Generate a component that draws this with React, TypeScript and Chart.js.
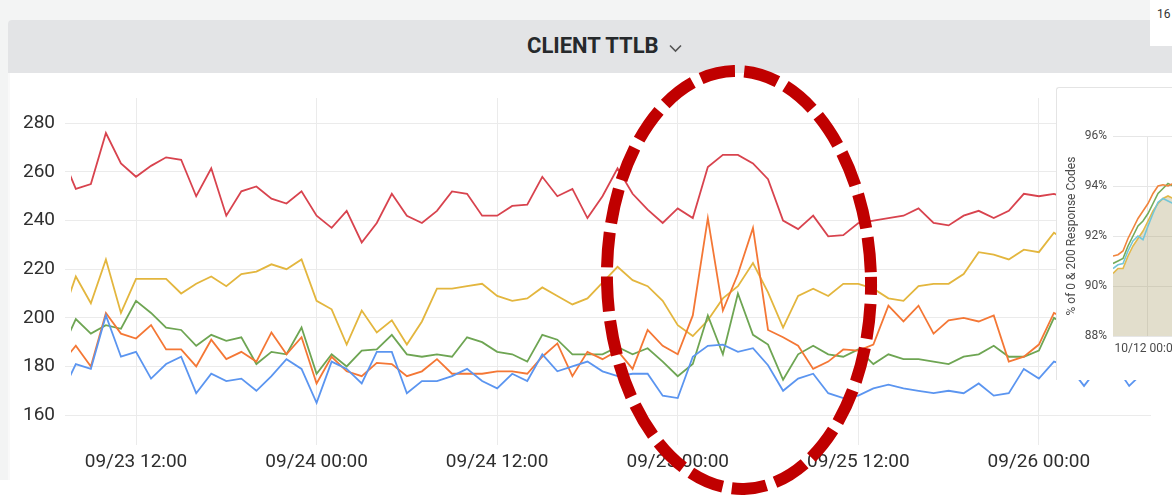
import React, { useEffect, useRef } from "react";
import { Chart, registerables } from "chart.js";

Chart.register(...registerables);

// ---------- Main chart data (hours since 09/23 00:00) ----------
const hours = [
  7, 8, 9, 10, 11, 12, 13, 14, 15, 16, 17, 18, 19, 20, 21, 22, 23, 24, 25, 26,
  27, 28, 29, 30, 31, 32, 33, 34, 35, 36, 37, 38, 39, 40, 41, 42, 43, 44, 45, 46,
  47, 48, 49, 50, 51, 52, 53, 54, 55, 56, 57, 58, 59, 60, 61, 62, 63, 64, 65, 66,
  67, 68, 69, 70, 71, 72, 73, 74, 75, 76, 77, 78, 79, 80,
];

const redSeries = [
  268, 253, 255, 276, 263.5, 258, 262.5, 266, 265, 250, 261.5, 242, 252, 254, 249, 247, 252, 242, 237, 244,
  231, 239, 251, 242, 239, 244, 252, 251, 242, 242, 246, 246.5, 258, 250, 253, 241, 250, 261.5, 251, 244.5,
  239, 245, 241, 262, 267, 267, 263.5, 257, 240, 236.5, 242, 233.5, 234, 239, 240, 241, 242, 245, 239, 238,
  242, 244, 241, 244, 251, 250, 251, 249, 252, 250, 248, 251, 250, 249,
];

const yellowSeries = [
  199, 217, 206, 224, 202, 216, 216, 216, 210, 214, 217, 213, 218, 219, 222, 220, 224, 207, 203.5, 189,
  203, 194, 199, 189, 198.5, 212, 212, 213, 214, 209, 207, 208, 212.5, 209, 205.5, 208, 214.5, 221, 215.5, 213,
  207, 197, 192.5, 199, 208, 213, 222.5, 210.5, 196, 209, 212, 209, 214, 214, 212, 208, 207, 213, 214, 214,
  218, 227, 226, 224, 228, 227, 235, 231, 229, 233, 230, 232, 231, 233,
];

const greenSeries = [
  186, 199.5, 193.5, 197, 195.5, 207, 202, 196, 195, 188.5, 193, 190.5, 192, 181, 186, 185, 196, 177, 185, 180,
  186.5, 187, 193, 185, 184, 185, 184, 192, 190, 186, 185, 182, 193, 191, 185, 185, 185, 188, 185, 187.5,
  182, 176, 181, 201, 185, 210, 193, 189, 174.5, 185, 188.5, 185, 184, 187, 181, 185, 183, 183, 182, 181,
  184, 185, 188.5, 184, 184, 186.5, 200, 196, 193, 197, 195, 194, 196, 195,
];

const orangeSeries = [
  181, 188.5, 180, 202, 193.5, 191.5, 197, 187, 187, 180, 191, 183, 186, 182, 194, 185, 192, 173, 184, 178,
  176, 181.5, 181, 176, 178, 183, 177, 177, 177, 178, 178, 177, 184, 189.5, 176, 186, 183, 186.5, 179, 195,
  188.5, 185, 201, 241, 203, 218, 237, 195, 192, 188.5, 179, 182, 187, 186.5, 189, 205, 198.5, 205, 193.5, 199,
  200, 198.5, 201, 182, 184, 189, 202, 199, 196, 200, 198, 197, 199, 198,
];

const blueSeries = [
  168, 181, 179, 201, 184, 186, 175, 181, 184, 169, 177, 174, 175, 170, 176, 183, 179, 165, 182, 179,
  173, 186, 186, 169, 174, 174, 176, 179, 174, 171, 177, 174, 185, 178, 180, 182, 178, 176, 177, 177,
  168, 167, 184, 188.5, 189, 186, 187.5, 180.5, 170, 175, 177, 169, 167, 168, 171, 172.5, 171, 170, 169, 170,
  169, 173, 168, 169, 179, 175, 182, 180, 172, 180, 181, 172, 178, 179,
];

const xTickHours = [12, 24, 36, 48, 60, 72];
const xTickLabels = ["09/23 12:00", "09/24 00:00", "09/24 12:00", "09/25 00:00", "09/25 12:00", "09/26 00:00"];
const yTickValues = [160, 180, 200, 220, 240, 260, 280];

// ---------- Overlay (partially visible) panel data ----------
const miniX = [0, 5, 10, 15, 20, 25, 30, 35, 40, 45, 50, 55, 60, 65];
const miniOrange = [91.2, 91.25, 91.4, 91.9, 92.3, 92.7, 93.0, 93.3, 93.7, 94.0, 94.05, 94.0, 94.1, 94.1];
const miniGreen = [90.9, 91.0, 91.1, 91.6, 92.0, 92.4, 92.6, 92.9, 93.3, 93.7, 93.9, 94.1, 94.0, 94.0];
const miniCyan = [90.7, 90.85, 90.9, 91.4, 91.8, 92.0, 91.85, 92.4, 92.9, 93.35, 93.5, 93.4, 93.3, 93.3];
const miniYellow = [90.5, 90.7, 90.7, 91.2, 91.6, 91.9, 92.2, 92.6, 93.0, 93.3, 93.5, 93.6, 93.5, 93.5];
const miniYTicks = [88, 90, 92, 94, 96];
const miniXTicks = [34];
const miniXTickLabels = ["10/12 00:00"];

const FONT = "Roboto, 'Noto Sans', sans-serif";

function toPoints(xs: number[], ys: number[]) {
  return xs.map((x, i) => ({ x, y: ys[i] }));
}

function MainChart() {
  const ref = useRef<HTMLCanvasElement | null>(null);
  useEffect(() => {
    if (!ref.current) return;
    const mk = (label: string, vals: number[], color: string) => ({
      label,
      data: toPoints(hours, vals),
      borderColor: color,
      backgroundColor: color,
      borderWidth: 1.8,
      pointRadius: 0,
      tension: 0,
      fill: false,
      clip: 0,
    });
    const chart = new Chart(ref.current, {
      type: "line",
      data: {
        datasets: [
          mk("blue", blueSeries, "#5b95f0"),
          mk("orange", orangeSeries, "#f47735"),
          mk("green", greenSeries, "#6ea553"),
          mk("yellow", yellowSeries, "#e3b63e"),
          mk("red", redSeries, "#d8434e"),
        ],
      },
      options: {
        animation: false,
        responsive: false,
        maintainAspectRatio: false,
        layout: { padding: { top: 25, right: 21, left: 0, bottom: 0 } },
        plugins: { legend: { display: false }, tooltip: { enabled: false } },
        scales: {
          x: {
            type: "linear",
            min: 7.68,
            max: 79.45,
            grid: { color: "#ebebeb", drawTicks: false, lineWidth: 1 },
            border: { display: false },
            ticks: {
              padding: 6,
              maxRotation: 0,
              autoSkip: false,
              color: "#2e2e2e",
              font: { family: FONT, size: 19 },
              callback: (v: any) => {
                const i = xTickHours.indexOf(Number(v));
                return i >= 0 ? xTickLabels[i] : "";
              },
            },
            afterBuildTicks: (s: any) => {
              s.ticks = xTickHours.map((v) => ({ value: v }));
            },
            afterFit: (s: any) => {
              s.height = 35;
            },
          },
          y: {
            type: "linear",
            min: 147.7,
            max: 290.4,
            grid: { color: "#ebebeb", tickLength: 6, lineWidth: 1 },
            border: { display: false },
            ticks: {
              padding: 10,
              color: "#2e2e2e",
              font: { family: FONT, size: 19 },
            },
            afterBuildTicks: (s: any) => {
              s.ticks = yTickValues.map((v) => ({ value: v }));
            },
            afterFit: (s: any) => {
              s.width = 61;
            },
          },
        },
      },
    } as any);
    return () => chart.destroy();
  }, []);
  return <canvas ref={ref} width={1162} height={407} style={{ position: "absolute", left: 10, top: 73 }} />;
}

function MiniChart() {
  const ref = useRef<HTMLCanvasElement | null>(null);
  useEffect(() => {
    if (!ref.current) return;
    const mk = (label: string, vals: number[], color: string, fill: boolean) => ({
      label,
      data: toPoints(miniX, vals),
      borderColor: color,
      backgroundColor: fill ? "rgba(172,161,109,0.35)" : color,
      borderWidth: 1.6,
      pointRadius: 0,
      tension: 0,
      fill: fill ? "start" : false,
      clip: 0,
    });
    const chart = new Chart(ref.current, {
      type: "line",
      data: {
        datasets: [
          mk("orange", miniOrange, "#f0843c", false),
          mk("green", miniGreen, "#74ab5a", false),
          mk("cyan", miniCyan, "#73c6d8", false),
          mk("yellow", miniYellow, "#e2b84a", true),
        ],
      },
      options: {
        animation: false,
        responsive: false,
        maintainAspectRatio: false,
        layout: { padding: { top: 48, right: 10, left: 0, bottom: 0 } },
        plugins: { legend: { display: false }, tooltip: { enabled: false } },
        scales: {
          x: {
            type: "linear",
            min: 0,
            max: 174,
            grid: { color: "#e6e6e6", drawTicks: false },
            border: { display: false },
            ticks: {
              padding: 6,
              maxRotation: 0,
              autoSkip: false,
              color: "#4a4a4a",
              font: { family: FONT, size: 12 },
              callback: (v: any) => {
                const i = miniXTicks.indexOf(Number(v));
                return i >= 0 ? miniXTickLabels[i] : "";
              },
            },
            afterBuildTicks: (s: any) => {
              s.ticks = miniXTicks.map((v) => ({ value: v }));
            },
            afterFit: (s: any) => {
              s.height = 44;
            },
          },
          y: {
            type: "linear",
            min: 88,
            max: 96,
            grid: { color: "#e6e6e6", drawTicks: false },
            border: { display: false },
            title: {
              display: true,
              text: "% of 0 & 200 Response Codes",
              color: "#4a4a4a",
              font: { family: FONT, size: 12 },
              padding: { top: 8, bottom: 0 },
            },
            ticks: {
              padding: 6,
              color: "#4a4a4a",
              font: { family: FONT, size: 12 },
              callback: (v: any) => `${v}%`,
            },
            afterBuildTicks: (s: any) => {
              s.ticks = miniYTicks.map((v) => ({ value: v }));
            },
            afterFit: (s: any) => {
              s.width = 56;
            },
          },
        },
      },
    } as any);
    return () => chart.destroy();
  }, []);
  return <canvas ref={ref} width={240} height={292} style={{ position: "absolute", left: 0, top: 0 }} />;
}

export default function App() {
  return (
    <div
      style={{
        position: "fixed",
        left: 0,
        top: 0,
        width: 1172,
        height: 497,
        overflow: "hidden",
        background: "#ffffff",
        fontFamily: FONT,
      }}
    >
      {/* page background */}
      <div style={{ position: "absolute", left: 0, top: 0, width: 1172, height: 480, background: "#f3f4f4" }} />
      {/* panel */}
      <div
        style={{
          position: "absolute",
          left: 8,
          top: 20,
          width: 1180,
          height: 460,
          background: "#ffffff",
          borderTopLeftRadius: 4,
          borderLeft: "2px solid #f9f9f9",
          boxSizing: "border-box",
        }}
      />
      {/* header */}
      <div
        style={{
          position: "absolute",
          left: 8,
          top: 20,
          width: 1180,
          height: 53,
          background: "#e3e4e6",
          borderTopLeftRadius: 4,
        }}
      />
      <div
        style={{
          position: "absolute",
          left: 527,
          top: 33,
          fontSize: 22,
          lineHeight: "26px",
          fontWeight: 700,
          color: "#26292c",
          whiteSpace: "nowrap",
          letterSpacing: 0,
        }}
      >
        CLIENT TTLB
      </div>
      <svg style={{ position: "absolute", left: 0, top: 0 }} width={1172} height={80}>
        <polyline points="670,45.5 675.5,51 681,45.5" fill="none" stroke="#555" strokeWidth={1.6} />
      </svg>

      {/* top-right white box */}
      <div style={{ position: "absolute", left: 1150, top: 0, width: 22, height: 46, background: "#ffffff" }}>
        <div style={{ position: "absolute", left: 7, top: 7, fontSize: 12, lineHeight: "14px", color: "#333" }}>16</div>
      </div>

      <MainChart />

      {/* overlapping panel on the right */}
      <div
        style={{
          position: "absolute",
          left: 1056,
          top: 87,
          width: 242,
          height: 293,
          background: "#ffffff",
          borderLeft: "1px solid #e4e4e4",
          borderTop: "1px solid #e4e4e4",
          borderTopLeftRadius: 3,
          boxSizing: "border-box",
          overflow: "hidden",
        }}
      >
        <MiniChart />
      </div>

      {/* annotation ellipse */}
      <svg style={{ position: "absolute", left: 0, top: 0, pointerEvents: "none" }} width={1172} height={497}>
        <ellipse
          cx={739}
          cy={280}
          rx={132}
          ry={209}
          fill="none"
          stroke="#c00000"
          strokeWidth={12}
          strokeDasharray="35 9.25"
          strokeDashoffset={17}
          transform="rotate(-1.4 739 280)"
        />
      </svg>
    </div>
  );
}
